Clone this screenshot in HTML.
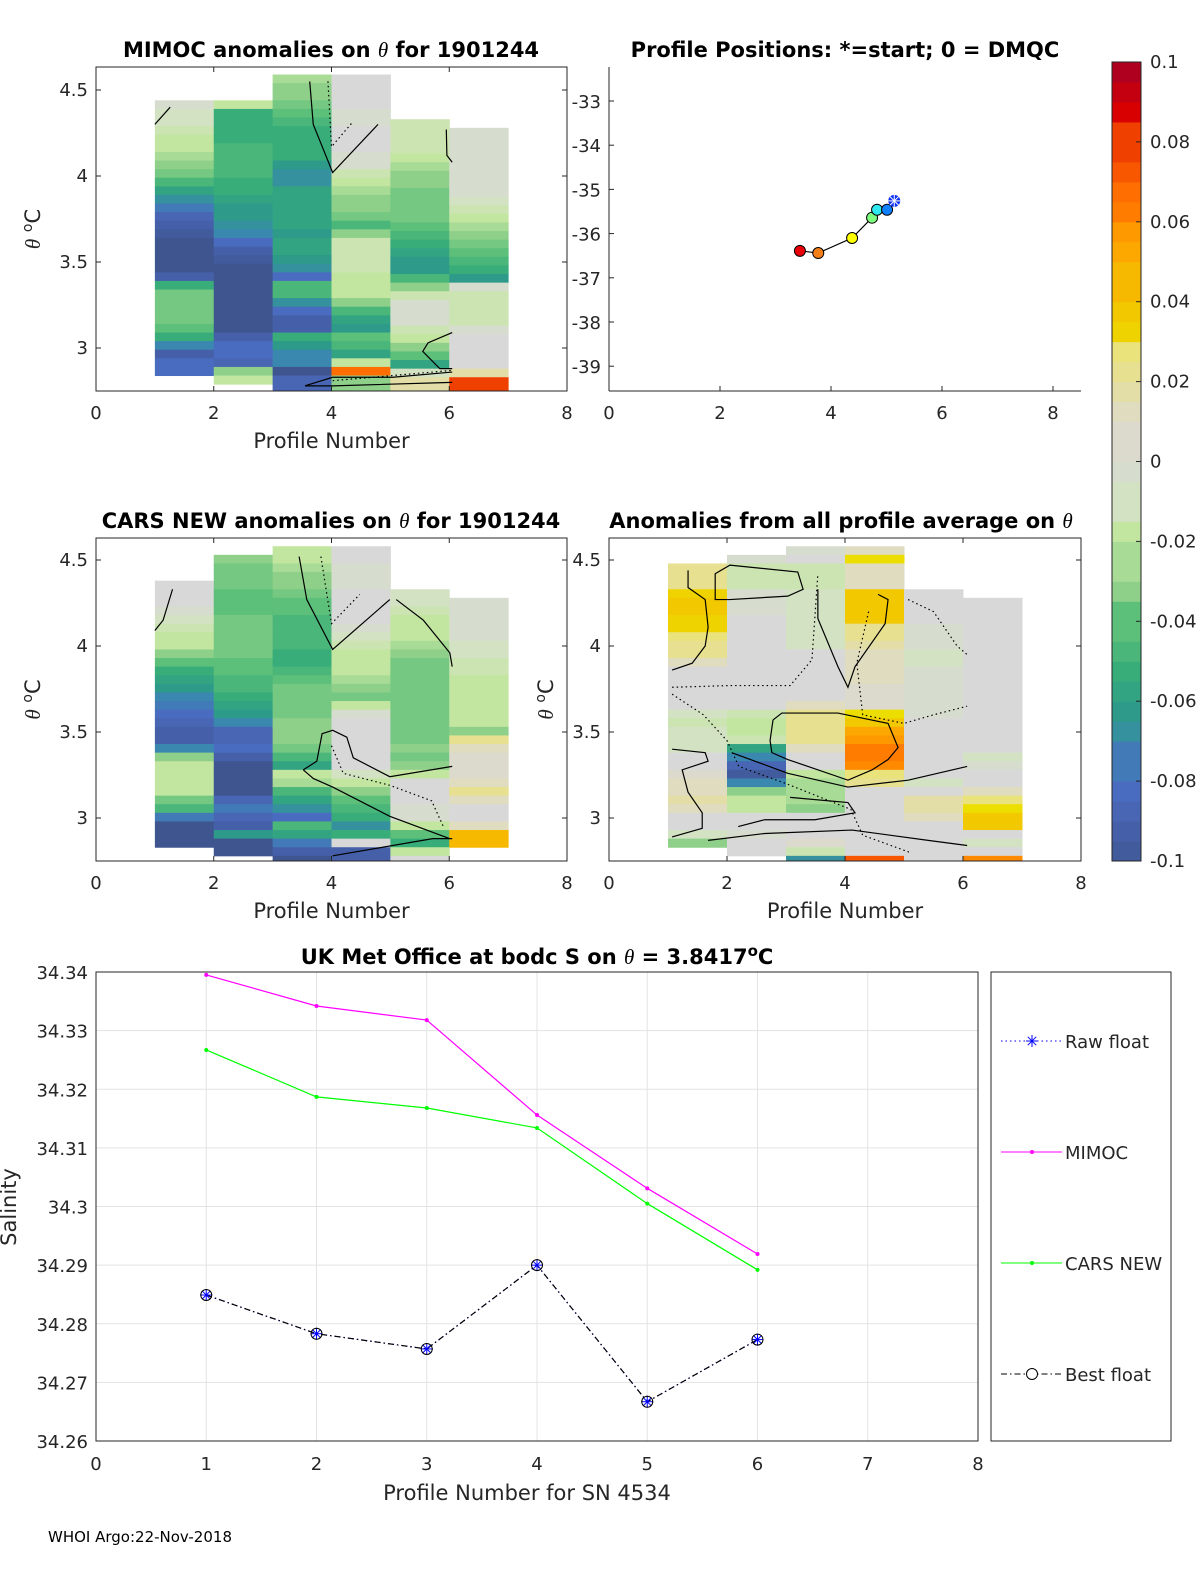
<!DOCTYPE html>
<html><head><meta charset="utf-8">
<style>
html,body{margin:0;padding:0;background:#fff;width:1200px;height:1575px;overflow:hidden;}
svg{display:block;position:absolute;left:0;top:0;font-family:"DejaVu Sans","Liberation Sans",sans-serif;}
.tk{font-size:18px;fill:#262626;}
.lb{font-size:21px;fill:#262626;}
.tt{font-size:21px;font-weight:bold;fill:#000;}
</style></head>
<body>
<svg id="fig" width="1200" height="1575" viewBox="0 0 1200 1575" xmlns="http://www.w3.org/2000/svg">
<defs>
<clipPath id="c1"><rect x="96" y="67" width="471" height="324"/></clipPath>
<clipPath id="c3"><rect x="96" y="538" width="471" height="323"/></clipPath>
<clipPath id="c4"><rect x="609" y="538" width="472" height="323"/></clipPath>
</defs>
<g id="root"></g>
</svg>
<script>
// ---------- data ----------
const mimocTop = [4.44, 4.44, 4.59, 4.59, 4.33, 4.28];
const mimocCol1 = [-0.005,-0.01,-0.012,-0.015,-0.02,-0.022,-0.025,-0.03,-0.035,-0.045,-0.055,-0.065,-0.075,-0.085,-0.09,-0.095,-0.1,-0.1,-0.1,-0.1,-0.09,-0.05,-0.035,-0.035,-0.035,-0.035,-0.04,-0.05,-0.07,-0.09,-0.08,-0.08];
const mimocCol2 = [-0.02,-0.048,-0.048,-0.05,-0.05,-0.045,-0.045,-0.045,-0.045,-0.05,-0.05,-0.055,-0.058,-0.062,-0.065,-0.068,-0.08,-0.09,-0.095,-0.1,-0.1,-0.1,-0.1,-0.1,-0.1,-0.1,-0.1,-0.09,-0.08,-0.08,-0.085,-0.03,-0.02];
const mimocCol3 = [-0.025,-0.028,-0.032,-0.035,-0.04,-0.045,-0.05,-0.05,-0.05,-0.05,-0.058,-0.065,-0.065,-0.055,-0.055,-0.055,-0.055,-0.055,-0.06,-0.055,-0.055,-0.06,-0.065,-0.08,-0.045,-0.045,-0.065,-0.08,-0.09,-0.09,-0.05,-0.06,-0.07,-0.07,-0.1,-0.085,-0.085];
const mimocCol4 = [0,0,0,0,-0.003,-0.003,0,0,0,-0.005,-0.005,-0.015,-0.02,-0.025,-0.028,-0.03,-0.035,-0.045,-0.03,-0.015,-0.015,-0.015,-0.015,-0.02,-0.02,-0.02,-0.03,-0.045,-0.055,-0.06,-0.04,-0.045,-0.055,-0.02,0.07,-0.03,-0.03];
const mimocCol5 = [-0.015,-0.015,-0.015,-0.015,-0.02,-0.025,-0.03,-0.032,-0.035,-0.035,-0.035,-0.035,-0.04,-0.045,-0.05,-0.055,-0.06,-0.06,-0.045,-0.03,-0.015,-0.005,-0.005,-0.005,-0.015,-0.02,-0.03,-0.04,-0.055,-0.01,0.015,0.015];
const mimocCol6 = [-0.005,-0.005,-0.005,-0.005,-0.005,-0.005,-0.005,-0.005,-0.01,-0.015,-0.02,-0.025,-0.03,-0.035,-0.04,-0.045,-0.05,-0.06,-0.005,-0.015,-0.015,-0.015,-0.015,-0.005,0,-0.002,0,0,0.015,0.08,0.08];

const carsTop = [4.38, 4.53, 4.58, 4.58, 4.33, 4.28];
const carsCol1 = [0,0,0,-0.005,-0.008,-0.015,-0.02,-0.022,-0.03,-0.04,-0.05,-0.055,-0.062,-0.068,-0.075,-0.08,-0.085,-0.09,-0.09,-0.07,-0.03,-0.02,-0.018,-0.018,-0.022,-0.035,-0.045,-0.075,-0.1,-0.1,-0.1];
const carsCol2 = [-0.03,-0.035,-0.035,-0.035,-0.038,-0.038,-0.038,-0.035,-0.035,-0.035,-0.035,-0.035,-0.04,-0.04,-0.045,-0.045,-0.05,-0.055,-0.06,-0.07,-0.085,-0.085,-0.08,-0.09,-0.1,-0.1,-0.1,-0.1,-0.085,-0.075,-0.085,-0.09,-0.06,-0.1,-0.1];
const carsCol3 = [-0.02,-0.02,-0.025,-0.028,-0.03,-0.035,-0.04,-0.04,-0.045,-0.045,-0.045,-0.045,-0.05,-0.05,-0.045,-0.04,-0.035,-0.035,-0.035,-0.035,-0.032,-0.03,-0.03,-0.035,-0.045,-0.055,-0.02,-0.025,-0.045,-0.055,-0.065,-0.08,-0.045,-0.055,-0.075,-0.09,-0.1];
const carsCol4 = [0,0,-0.005,-0.005,-0.005,0,0,0,0,-0.005,-0.01,-0.015,-0.02,-0.02,-0.02,-0.025,-0.03,-0.035,-0.02,-0.005,0,0,0,0,0,0,-0.01,-0.02,-0.03,-0.04,-0.045,-0.05,-0.065,-0.05,-0.002,-0.09,-0.09];
const carsCol5 = [-0.008,-0.01,-0.015,-0.02,-0.02,-0.02,-0.025,-0.03,-0.035,-0.035,-0.035,-0.035,-0.035,-0.035,-0.035,-0.035,-0.035,-0.035,-0.03,-0.035,-0.03,-0.02,0,0,0,-0.005,-0.005,-0.02,-0.04,-0.05,-0.02,-0.002,-0.07];
const carsCol6 = [-0.003,-0.003,-0.003,-0.003,-0.005,-0.008,-0.012,-0.015,-0.015,-0.018,-0.018,-0.018,-0.022,-0.022,-0.022,-0.03,0.02,0.01,0.005,0.005,0.005,0.01,0.022,0.01,0.002,0,0.01,0.045,0.045];

const avgTop = [4.48, 4.53, 4.58, 4.58, 4.33, 4.28];
const avgCol1 = [0.02,0.02,0.02,0.035,0.038,0.038,0.035,0.035,0.025,0.02,0.02,0.01,0.002,0,0,-0.002,-0.002,-0.01,-0.015,-0.008,-0.008,-0.008,0,0,0.005,0.012,0.012,0.015,0.008,0,0,-0.01,-0.03];
const avgCol2 = [-0.005,-0.015,-0.015,-0.015,-0.005,-0.003,-0.003,0,0,0,0,0,0,0,0,0,0,0,-0.015,-0.02,-0.02,-0.015,-0.055,-0.07,-0.085,-0.095,-0.07,-0.03,-0.02,-0.02,0,0,-0.005,0,0];
const avgCol3 = [-0.005,0,-0.015,-0.015,-0.015,-0.012,-0.012,-0.012,-0.012,-0.01,-0.01,-0.01,0,0,0,0,0,0,0.012,0.018,0.018,0.018,0.018,0.01,0,0,-0.02,-0.025,-0.025,-0.025,-0.03,0,0,0,0.005,-0.015,-0.065,-0.005];
const avgCol4 = [0.008,0.028,0.01,0.012,0.012,0.038,0.038,0.038,0.038,0.022,0.018,0.015,0.012,0.008,0.008,0.008,0.005,0.005,0.005,0.028,0.042,0.05,0.055,0.063,0.063,0.058,0.025,0.018,0,0,0,0,0,0,0.002,0.002,0.075,0];
const avgCol5 = [0,0,0,0,-0.005,-0.005,-0.005,-0.01,-0.01,-0.005,-0.005,-0.005,-0.005,-0.005,-0.005,0,0,0,0,0,0,0,-0.01,0,0.015,0.015,0.008,0,0,0,0,0,-0.002];
const avgCol6 = [0,0,0,0,0,0,0,0,0,0,0,0,0,0,0,0,0,0,-0.012,-0.003,0,0,0.01,0.025,0.03,0.04,0.04,0,-0.01,0,0.06,0.06];

// contour lines: [profile, theta] pairs; style 's' solid, 'd' dotted
const mimocContours = [
 ['s',[[3.63,4.55],[3.69,4.30],[4.02,4.02],[4.79,4.30]]],
 ['d',[[3.94,4.55],[4.0,4.17],[4.35,4.31]]],
 ['s',[[1.0,4.30],[1.26,4.40]]],
 ['s',[[5.95,4.27],[5.96,4.12],[6.05,4.08]]],
 ['s',[[6.05,3.09],[5.64,3.03],[5.55,2.98],[5.84,2.88],[6.05,2.88]]],
 ['s',[[3.55,2.78],[4.02,2.83],[5.04,2.83],[6.05,2.86]]],
 ['s',[[3.55,2.78],[4.02,2.78],[6.05,2.80]]],
 ['d',[[4.02,2.81],[5.04,2.84],[6.05,2.87]]]
];
const carsContours = [
 ['s',[[3.45,4.52],[3.58,4.27],[4.02,3.98],[4.99,4.27]]],
 ['d',[[3.82,4.52],[4.0,4.13],[4.48,4.30]]],
 ['s',[[1.0,4.09],[1.14,4.15],[1.30,4.33]]],
 ['s',[[5.1,4.27],[5.56,4.15],[6.01,3.96],[6.05,3.88]]],
 ['s',[[3.52,3.28],[3.75,3.33],[3.84,3.49],[4.02,3.51],[4.26,3.47],[4.37,3.35],[4.99,3.24],[6.05,3.30]]],
 ['s',[[3.52,3.28],[3.69,3.23],[4.02,3.18],[4.99,3.01],[6.01,2.88]]],
 ['d',[[4.0,3.42],[4.2,3.26],[4.99,3.19],[5.7,3.1],[5.9,2.95]]],
 ['s',[[4.02,2.78],[5.72,2.88],[6.05,2.88]]]
];
const avgContours = [
 ['s',[[1.07,3.86],[1.41,3.9],[1.63,4.0],[1.68,4.11],[1.63,4.27],[1.34,4.34],[1.34,4.44]]],
 ['d',[[1.07,3.76],[2.05,3.77],[3.07,3.77],[3.44,3.92],[3.54,4.42]]],
 ['s',[[2.78,3.57],[2.93,3.61],[3.88,3.61],[4.73,3.55],[4.9,3.41],[4.73,3.34],[4.46,3.28],[4.05,3.22],[3.03,3.34],[2.76,3.38],[2.73,3.45],[2.78,3.57]]],
 ['s',[[3.54,4.33],[3.54,4.16],[3.88,3.88],[4.05,3.76],[4.17,3.88],[4.68,4.13],[4.73,4.27],[4.56,4.30]]],
 ['s',[[2.05,4.27],[3.03,4.29],[3.29,4.33],[3.2,4.43],[2.05,4.47],[1.8,4.42],[1.8,4.27],[2.05,4.27]]],
 ['s',[[1.07,3.40],[1.63,3.38],[1.68,3.33],[1.24,3.28],[1.34,3.15],[1.58,3.03],[1.58,2.94],[1.07,2.89]]],
 ['s',[[2.08,3.38],[3.03,3.26],[4.05,3.18],[5.07,3.22],[6.07,3.30]]],
 ['s',[[3.07,3.12],[4.05,3.09],[4.17,3.03],[3.49,2.99],[2.64,2.99],[2.19,2.95]]],
 ['s',[[1.68,2.87],[2.64,2.91],[4.12,2.93],[5.41,2.87],[6.07,2.84]]],
 ['d',[[1.07,3.72],[1.6,3.6],[2.0,3.45],[2.2,3.3],[3.0,3.2],[4.1,3.05],[4.3,2.9],[5.1,2.8]]],
 ['d',[[4.4,4.2],[4.2,3.9],[4.3,3.6],[5.0,3.55],[5.5,3.6],[6.07,3.65]]],
 ['d',[[5.07,4.27],[5.5,4.2],[5.9,4.0],[6.07,3.95]]]
];

const posX = [3.44, 3.77, 4.38, 4.74, 4.83, 5.01];
const posY = [-36.39, -36.44, -36.10, -35.64, -35.46, -35.46];
const startX = 5.14, startY = -35.26;
const posColors = ['#e8000b','#f5801a','#ffff00','#80ff80','#30e8f0','#1080ff'];

const profiles = [1, 2, 3, 4, 5, 6];
const mimocS = [34.3395, 34.3342, 34.3318, 34.3156, 34.3031, 34.2919];
const carsS  = [34.3267, 34.3187, 34.3168, 34.3134, 34.3005, 34.2892];
const floatS = [34.2849, 34.2783, 34.2757, 34.2900, 34.2667, 34.2773];
const salTicks = ['34.26','34.27','34.28','34.29','34.3','34.31','34.32','34.33','34.34'];
const thetaTicks = ['3','3.5','4','4.5'];
const profTicks = ['0','2','4','6','8'];
const latTicks = ['-33','-34','-35','-36','-37','-38','-39'];
const cbTicks = ['-0.1','-0.08','-0.06','-0.04','-0.02','0','0.02','0.04','0.06','0.08','0.1'];

// ---------- helpers ----------
const NS='http://www.w3.org/2000/svg';
const root=document.getElementById('root');
function mk(tag,attrs,parent){const e=document.createElementNS(NS,tag);for(const k in attrs)e.setAttribute(k,attrs[k]);(parent||root).appendChild(e);return e;}
function txt(s,x,y,cls,anchor,parent,extra){const e=mk('text',Object.assign({x:x,y:y,class:cls,'text-anchor':anchor||'middle'},extra||{}),parent);e.textContent=s;return e;}

const anchors=[[-0.1,[63,85,143]],[-0.09,[69,96,168]],[-0.08,[74,108,192]],[-0.07,[58,136,176]],[-0.06,[46,154,138]],[-0.05,[56,173,122]],[-0.04,[92,191,122]],[-0.03,[142,208,138]],[-0.02,[194,230,160]],[-0.01,[212,226,196]],[0,[216,216,216]],[0.01,[224,220,192]],[0.02,[230,224,144]],[0.028,[236,228,110]],[0.03,[236,222,0]],[0.04,[242,200,0]],[0.05,[252,168,0]],[0.06,[255,138,0]],[0.07,[255,110,0]],[0.08,[240,64,0]],[0.09,[216,0,0]],[0.1,[176,0,32]]];
function cmap(v){
  v=Math.max(-0.1,Math.min(0.1,v));
  v=Math.round(v/0.005)*0.005;
  for(let i=0;i<anchors.length-1;i++){const a=anchors[i],b=anchors[i+1];
    if(v<=b[0]+1e-9){const t=(v-a[0])/(b[0]-a[0]);return 'rgb('+a[1].map((c,j)=>Math.round(c+(b[1][j]-c)*t)).join(',')+')';}}
  return 'rgb(176,0,32)';
}

function axisBox(x0,y0,w,h,name){
  const r=mk('rect',{x:x0,y:y0,width:w,height:h,fill:'none',stroke:'#262626','stroke-width':1});
  
}

function heatPanel(p){
  const g=mk('g',{'clip-path':'url(#'+p.clip+')'});
  
  
  const sx=v=>p.x0+(v-p.xmin)*p.xs;
  const sy=t=>p.yRef-(t-p.tRef)*172;
  p.cols.forEach((col,i)=>{
    col.forEach((v,j)=>{
      const tTop=p.tops[i]-j*0.05;
      const y1=sy(tTop), y2=sy(tTop-0.05);
      const c=mk('rect',{x:sx(i+1),y:y1,width:sx(i+2)-sx(i+1)+0.5,height:y2-y1+0.5,fill:cmap(v)},g);
      
      
    });
  });
  p.contours.forEach(ct=>{
    const pts=ct[1].map(q=>sx(q[0])+','+sy(q[1])).join(' ');
    const l=mk('polyline',{points:pts,fill:'none',stroke:'#000','stroke-width':1.2,'stroke-dasharray':ct[0]==='d'?'1.5 3':'none'},g);
    
    
  });
  axisBox(p.x0,p.y0,p.w,p.h,p.name+'-axes');
  profTicks.forEach(t=>{const x=sx(+t);
    mk('line',{x1:x,x2:x,y1:p.y0,y2:p.y0+5,stroke:'#262626'});
    mk('line',{x1:x,x2:x,y1:p.y0+p.h,y2:p.y0+p.h-5,stroke:'#262626'});
    const e=txt(t,x,p.y0+p.h+28,'tk');});
  thetaTicks.forEach(t=>{const y=sy(+t);
    mk('line',{x1:p.x0,x2:p.x0+5,y1:y,y2:y,stroke:'#262626'});
    mk('line',{x1:p.x0+p.w,x2:p.x0+p.w-5,y1:y,y2:y,stroke:'#262626'});
    const e=txt(t,p.x0-8,y+6,'tk','end');});
  const xl=txt('Profile Number',p.x0+p.w/2,p.y0+p.h+57,'lb');
  
  if(p.ylab){const cy=p.y0+p.h/2;const yl=mk('text',{x:p.x0-56,y:cy,class:'lb','text-anchor':'middle',transform:'rotate(-90 '+(p.x0-56)+' '+cy+')'});
    yl.innerHTML='<tspan font-style="italic" font-family="Liberation Serif, serif">θ</tspan> <tspan dy="-8" font-size="14">o</tspan><tspan dy="8">C</tspan>';
    }
}

heatPanel({name:'mimoc',clip:'c1',x0:96,y0:67,w:471,h:324,xmin:0,xs:58.875,yRef:348,tRef:3,tops:mimocTop,cols:[mimocCol1,mimocCol2,mimocCol3,mimocCol4,mimocCol5,mimocCol6],contours:mimocContours,ylab:true});
heatPanel({name:'cars',clip:'c3',x0:96,y0:538,w:471,h:323,xmin:0,xs:58.875,yRef:818,tRef:3,tops:carsTop,cols:[carsCol1,carsCol2,carsCol3,carsCol4,carsCol5,carsCol6],contours:carsContours,ylab:true});
heatPanel({name:'avg',clip:'c4',x0:609,y0:538,w:472,h:323,xmin:0,xs:59,yRef:818,tRef:3,tops:avgTop,cols:[avgCol1,avgCol2,avgCol3,avgCol4,avgCol5,avgCol6],contours:avgContours,ylab:true});

function title(html,x,y,name){const e=mk('text',{x:x,y:y,class:'tt','text-anchor':'middle'});e.innerHTML=html;}
const th='<tspan font-style="italic" font-weight="normal" font-family="Liberation Serif, serif">θ</tspan>';
title('MIMOC anomalies on '+th+'  for 1901244',331,57,'mimoc-title');
title('Profile Positions: *=start; 0 = DMQC',845,57,'positions-title');
title('CARS NEW anomalies on '+th+' for 1901244',331,528,'cars-title');
title('Anomalies from all profile average on '+th,841,528,'avg-title');

(function(){
  const x0=609,y0=67,w=472,h=324;
  const sx=v=>x0+v*55.5, sy=v=>101+(-33-v)*44.2;
  const g=mk('g',{});
  mk('line',{x1:x0,y1:y0,x2:x0,y2:y0+h,stroke:'#262626'},g);
  mk('line',{x1:x0,y1:y0+h,x2:x0+w,y2:y0+h,stroke:'#262626'},g);
  profTicks.forEach(t=>{const x=sx(+t);mk('line',{x1:x,x2:x,y1:y0+h,y2:y0+h-5,stroke:'#262626'},g);
    const e=txt(t,x,y0+h+28,'tk','middle',g);});
  latTicks.forEach(t=>{const y=sy(+t);mk('line',{x1:x0,x2:x0+5,y1:y,y2:y,stroke:'#262626'},g);
    const e=txt(t,x0-8,y+7,'tk','end',g);});
  const pts=posX.map((v,i)=>sx(v)+','+sy(posY[i])).concat([sx(startX)+','+sy(startY)]).join(' ');
  const ln=mk('polyline',{points:pts,fill:'none',stroke:'#000','stroke-width':1.2},g);
  
  posX.forEach((v,i)=>{const c=mk('circle',{cx:sx(v),cy:sy(posY[i]),r:5.5,fill:posColors[i],stroke:'#000','stroke-width':1},g);
    });
  const cx=sx(startX),cy=sy(startY);
  const s=mk('circle',{cx:cx,cy:cy,r:5.5,fill:'#1030f0',stroke:'#1030f0'},g);
  
  [[0,6],[6,0],[4.2,4.2],[4.2,-4.2]].forEach(d=>mk('line',{x1:cx-d[0],y1:cy-d[1],x2:cx+d[0],y2:cy+d[1],stroke:'#fff','stroke-width':1},g));
})();

(function(){
  const x0=1112,w=29,yTop=62,yBot=861;
  const g=mk('g',{});
  const sy=v=>yBot-(v+0.1)/0.2*(yBot-yTop);
  for(let k=0;k<40;k++){const a=-0.1+k*0.005;const y1=sy(a+0.005),y2=sy(a);
    mk('rect',{x:x0,y:y1,width:w,height:y2-y1+0.5,fill:cmap(a+0.0025)},g);}
  mk('rect',{x:x0,y:yTop,width:w,height:yBot-yTop,fill:'none',stroke:'#262626'},g);
  cbTicks.forEach(t=>{const y=sy(+t);mk('line',{x1:x0+w-5,x2:x0+w,y1:y,y2:y,stroke:'#262626'},g);
    const e=txt(t,x0+38,y+6,'tk','start',g);});
})();

(function(){
  const x0=96,y0=972,w=882,h=469;
  const sx=v=>x0+v*w/8, sy=v=>y0+h-(v-34.26)/0.08*h;
  const g=mk('g',{});
  for(let i=0;i<=8;i++){const x=sx(i);
    mk('line',{x1:x,x2:x,y1:y0,y2:y0+h,stroke:'#e3e3e3'},g);
    const e=txt(String(i),x,y0+h+29,'tk','middle',g);}
  salTicks.forEach(t=>{const y=sy(+t);mk('line',{x1:x0,x2:x0+w,y1:y,y2:y,stroke:'#e3e3e3'},g);
    const e=txt(t,x0-8,y+7,'tk','end',g);});
  mk('rect',{x:x0,y:y0,width:w,height:h,fill:'none',stroke:'#262626'},g);
  function series(vals,color,name,dash){
    const pts=profiles.map((p,i)=>sx(p)+','+sy(vals[i])).join(' ');
    const l=mk('polyline',{points:pts,fill:'none',stroke:color,'stroke-width':1.2,'stroke-dasharray':dash||'none'},g);
    
  }
  series(mimocS,'#ff00ff','mimoc');
  series(carsS,'#00ff00','cars');
  series(floatS,'#0000ff','raw-float','1.5 3');
  series(floatS,'#000','best-float','6 3 1.5 3');
  profiles.forEach((p,i)=>{
    [[mimocS,'#ff00ff'],[carsS,'#00ff00']].forEach(s=>{const c=mk('circle',{cx:sx(p),cy:sy(s[0][i]),r:2,fill:s[1]},g);
      });
    const cx=sx(p),cy=sy(floatS[i]);
    [[0,6],[6,0],[4.2,4.2],[4.2,-4.2]].forEach(d=>mk('line',{x1:cx-d[0],y1:cy-d[1],x2:cx+d[0],y2:cy+d[1],stroke:'#0000ff','stroke-width':1},g));
    const c=mk('circle',{cx:cx,cy:cy,r:5.5,fill:'none',stroke:'#000','stroke-width':1},g);
    
  });
  txt('Profile Number for SN 4534',x0+w/2-10,1500,'lb','middle',g);
  const yl=txt('Salinity',16,1207,'lb','middle',g,{transform:'rotate(-90 16 1207)'});
  
  const t=mk('text',{x:537,y:964,class:'tt','text-anchor':'middle'},g);
  t.innerHTML='UK Met Office at bodc S on '+th+' = 3.8417<tspan dy="-8" font-size="15">o</tspan><tspan dy="8">C</tspan>';
  
  const lg=mk('g',{},g);
  mk('rect',{x:991,y:972,width:180,height:469,fill:'#fff',stroke:'#262626'},lg);
  const ent=[['Raw float',1048],['MIMOC',1159],['CARS NEW',1270],['Best float',1381]];
  ent.forEach((e,i)=>{const y=e[1]-7;
    mk('line',{x1:1001,x2:1062,y1:y,y2:y,stroke:['#0000ff','#ff00ff','#00ff00','#000'][i],'stroke-width':1,'stroke-dasharray':['1.5 3','none','none','6 3 1.5 3'][i]},lg);
    if(i===0)[[0,6],[6,0],[4.2,4.2],[4.2,-4.2]].forEach(d=>mk('line',{x1:1032-d[0],y1:y-d[1],x2:1032+d[0],y2:y+d[1],stroke:'#0000ff'},lg));
    if(i===1||i===2)mk('circle',{cx:1032,cy:y,r:2,fill:['','#ff00ff','#00ff00'][i]},lg);
    if(i===3)mk('circle',{cx:1032,cy:y,r:5.5,fill:'#fff',stroke:'#000'},lg);
    const tx=txt(e[0],1065,e[1],'tk','start',lg);
  });
})();

const foot=txt('WHOI Argo:22-Nov-2018',48,1542,'tk','start');
foot.setAttribute('style','font-size:15px;fill:#000');


</script>
</body></html>
